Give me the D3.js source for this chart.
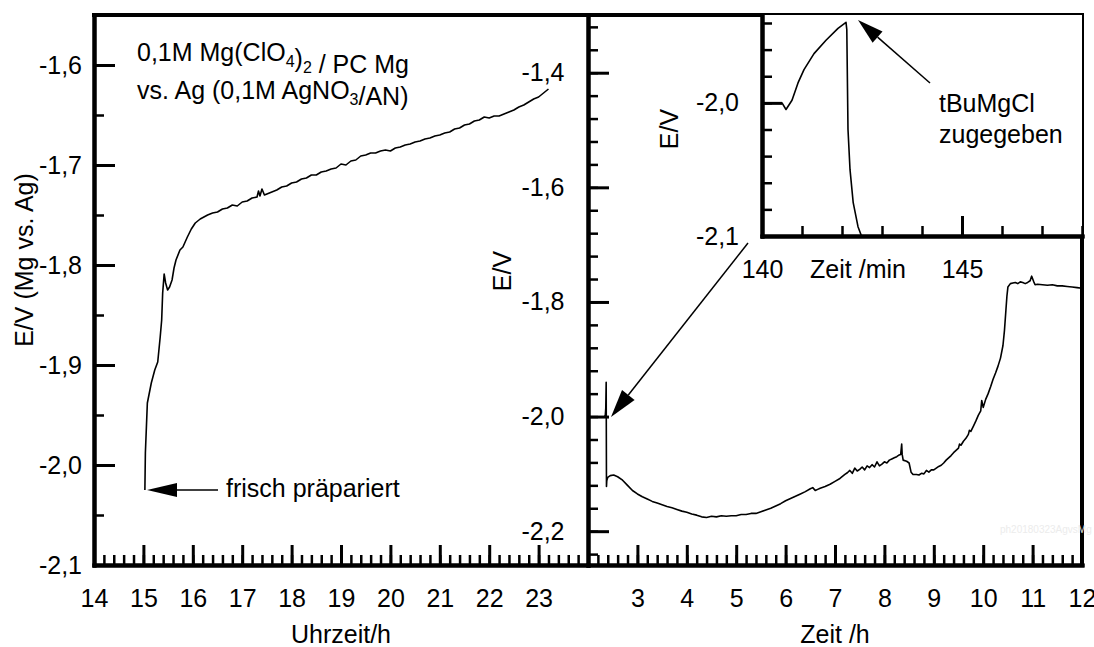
<!DOCTYPE html>
<html>
<head>
<meta charset="utf-8">
<script src="https://cdn.jsdelivr.net/npm/d3@7"></script>
<style>
  body { margin: 0; background: #fff; }
  text { font-family: "Liberation Sans", Arial, sans-serif; fill: #000; }
</style>
</head>
<body>
<div id="chart"></div>
<script>
// Left panel: potential vs. clock time (h)
const leftHours = [15.03, 15.04, 15.08, 15.16, 15.23, 15.29, 15.34, 15.37, 15.39, 15.42, 15.45, 15.49, 15.53, 15.58, 15.62,
    15.66, 15.74, 15.80, 15.89, 15.97, 16.05, 16.15, 16.3, 16.4, 16.5, 16.6, 16.7, 16.8, 16.9, 17.0, 17.1, 17.2, 17.3,
    17.33, 17.36, 17.4, 17.45, 17.5, 17.6, 17.7, 17.8, 17.9, 18.0, 18.1, 18.2, 18.3, 18.4, 18.5, 18.6, 18.7, 18.8, 18.9,
    19.0, 19.1, 19.2, 19.3, 19.4, 19.5, 19.6, 19.7, 19.8, 19.9, 20.0, 20.1, 20.2, 20.3, 20.4, 20.5, 20.6, 20.7, 20.8,
    20.9, 21.0, 21.1, 21.2, 21.3, 21.4, 21.5, 21.6, 21.7, 21.8, 21.9, 22.0, 22.1, 22.2, 22.3, 22.4, 22.5, 22.6, 22.7,
    22.8, 22.9, 23.0, 23.1, 23.2];
const leftVolts = [-2.025, -1.988, -1.938, -1.918, -1.905, -1.897, -1.872, -1.855, -1.828, -1.809, -1.818, -1.825, -1.822, -1.815, -1.803,
    -1.795, -1.785, -1.782, -1.772, -1.764, -1.758, -1.754, -1.750, -1.748, -1.747, -1.744, -1.743, -1.740, -1.741, -1.737, -1.736, -1.733, -1.732,
    -1.726, -1.731, -1.724, -1.730, -1.729, -1.727, -1.725, -1.722, -1.721, -1.718, -1.717, -1.714, -1.713, -1.710, -1.710, -1.707, -1.706, -1.704, -1.703,
    -1.699, -1.700, -1.696, -1.695, -1.691, -1.690, -1.688, -1.688, -1.686, -1.685, -1.686, -1.683, -1.682, -1.680, -1.679, -1.677, -1.676, -1.674, -1.673,
    -1.671, -1.670, -1.668, -1.667, -1.664, -1.663, -1.660, -1.659, -1.656, -1.655, -1.652, -1.653, -1.651, -1.651, -1.649, -1.647, -1.645, -1.642, -1.640,
    -1.637, -1.634, -1.632, -1.628, -1.624];

// Right panel: potential vs. time (h)
const rightHours = [2.333, 2.350, 2.360, 2.368, 2.370, 2.374, 2.380, 2.400, 2.45, 2.52, 2.60, 2.70, 2.80, 2.90, 3.00, 3.10, 3.20, 3.30,
    3.40, 3.50, 3.60, 3.70, 3.80, 3.90, 4.00, 4.10, 4.20, 4.30, 4.40, 4.50, 4.60, 4.70, 4.80, 4.90, 5.00, 5.10, 5.20, 5.30,
    5.40, 5.50, 5.60, 5.70, 5.80, 5.90, 6.00, 6.10, 6.20, 6.30, 6.40, 6.50, 6.55, 6.60, 6.65, 6.70, 6.80, 6.90, 7.00, 7.10,
    7.20, 7.25, 7.30, 7.35, 7.40, 7.45, 7.50, 7.55, 7.60, 7.65, 7.70, 7.75, 7.80, 7.85, 7.90, 7.95, 8.00, 8.05, 8.10, 8.15,
    8.20, 8.25, 8.30, 8.33, 8.35, 8.36, 8.38, 8.45, 8.50, 8.54, 8.58, 8.65, 8.70, 8.75, 8.80, 8.85, 8.90, 8.95, 9.00, 9.05,
    9.10, 9.15, 9.20, 9.25, 9.30, 9.35, 9.40, 9.45, 9.50, 9.52, 9.55, 9.60, 9.65, 9.70, 9.72, 9.75, 9.80, 9.85, 9.90, 9.95,
    9.97, 10.00, 10.05, 10.10, 10.15, 10.20, 10.25, 10.30, 10.35, 10.40, 10.43, 10.46, 10.48, 10.50, 10.55, 10.60, 10.65,
    10.70, 10.75, 10.80, 10.85, 10.90, 10.95, 10.98, 11.02, 11.05, 11.10, 11.20, 11.30, 11.40, 11.50, 11.60, 11.70, 11.80,
    11.90, 12.00];
const rightVolts = [-2.000, -1.998, -1.985, -1.940, -2.000, -2.122, -2.112, -2.106, -2.103, -2.102, -2.105, -2.111, -2.120, -2.129, -2.135, -2.140, -2.144, -2.148,
    -2.151, -2.154, -2.157, -2.159, -2.162, -2.165, -2.167, -2.170, -2.172, -2.175, -2.176, -2.174, -2.175, -2.173, -2.174, -2.173, -2.173, -2.171, -2.171, -2.169,
    -2.169, -2.166, -2.163, -2.160, -2.156, -2.152, -2.147, -2.143, -2.139, -2.135, -2.131, -2.126, -2.124, -2.129, -2.127, -2.125, -2.122, -2.118, -2.113, -2.108,
    -2.101, -2.098, -2.094, -2.099, -2.090, -2.095, -2.092, -2.088, -2.093, -2.086, -2.089, -2.084, -2.088, -2.079, -2.086, -2.083, -2.079, -2.081, -2.076, -2.074,
    -2.072, -2.070, -2.067, -2.066, -2.048, -2.066, -2.076, -2.078, -2.081, -2.097, -2.101, -2.101, -2.102, -2.099, -2.100, -2.094, -2.097, -2.093, -2.093, -2.090,
    -2.087, -2.085, -2.081, -2.076, -2.072, -2.068, -2.063, -2.059, -2.055, -2.048, -2.050, -2.043, -2.038, -2.031, -2.024, -2.026, -2.017, -2.008, -1.998, -1.990,
    -1.972, -1.984, -1.970, -1.960, -1.948, -1.935, -1.924, -1.912, -1.898, -1.876, -1.850, -1.814, -1.790, -1.774, -1.768, -1.767, -1.766,
    -1.768, -1.765, -1.766, -1.768, -1.766, -1.763, -1.755, -1.764, -1.770, -1.769, -1.770, -1.771, -1.770, -1.772, -1.772, -1.773, -1.774,
    -1.775, -1.776];

// Inset: detail around the addition (min)
const insetMinutes = [140.0, 140.5, 140.6, 140.75, 140.9, 141.05, 141.3, 141.6, 141.9, 142.1, 142.12, 142.15, 142.2, 142.28, 142.4, 142.55];
const insetVolts = [-2.000, -2.000, -2.005, -1.998, -1.985, -1.975, -1.963, -1.953, -1.944, -1.9395, -1.945, -2.02, -2.05, -2.075, -2.093, -2.105];

// Tick labels
const leftHourTicks = [14, 15, 16, 17, 18, 19, 20, 21, 22, 23];
const leftVoltTicks = [-2.1, -2.0, -1.9, -1.8, -1.7, -1.6];
const rightHourTicks = [3, 4, 5, 6, 7, 8, 9, 10, 11, 12];
const rightVoltTicks = [-2.2, -2.0, -1.8, -1.6, -1.4];
const insetMinuteTicks = [140, 145];
const insetVoltTicks = [-2.1, -2.0];

const width = 1094, height = 647;
const fontSize = 25;
const fmt = v => v.toFixed(1).replace(".", ",");

const svg = d3.select("#chart").append("svg")
    .attr("width", width)
    .attr("height", height);

// Scales
const xLeft = d3.scaleLinear().domain([14, 24]).range([94, 588]);
const yLeft = d3.scaleLinear().domain([-2.1, -1.55]).range([565, 15]);
const xRight = d3.scaleLinear().domain([2, 12]).range([588, 1082]);
const yRight = d3.scaleLinear().domain([-2.259, -1.2993]).range([565, 15]);
const xInset = d3.scaleLinear().domain([140, 148]).range([762, 1082]);
const yInset = d3.scaleLinear().domain([-2.1, -1.934]).range([236, 15]);

const steps = (a, b, s) => d3.range(0, Math.round((b - a) / s) + 1).map(i => +(a + i * s).toFixed(4));

function styleAxis(g, tickWidth) {
    g.select(".domain").attr("stroke", "#000").attr("stroke-width", 4).attr("stroke-linecap", "square");
    g.selectAll(".tick line").attr("stroke", "#000").attr("stroke-width", tickWidth);
    g.selectAll(".tick text").attr("font-size", fontSize).attr("fill", "#000")
        .attr("font-family", '"Liberation Sans", Arial, sans-serif');
}

// Draws a minor + major axis pair
function drawAxis(axisFn, scale, pos, minorVals, majorVals, majorLen, minorLen, pad, labels) {
    const minor = svg.append("g").attr("transform", pos)
        .call(axisFn(scale).tickValues(minorVals).tickSizeInner(-minorLen).tickSizeOuter(0).tickFormat(""));
    styleAxis(minor, 2.5);
    const major = svg.append("g").attr("transform", pos)
        .call(axisFn(scale).tickValues(majorVals).tickSizeInner(-majorLen).tickSizeOuter(0)
            .tickPadding(pad).tickFormat(labels ? labels : () => ""));
    styleAxis(major, 3);
    return major;
}

// Left panel axes
drawAxis(d3.axisBottom, xLeft, "translate(0,565)", steps(14, 24, 0.2), leftHourTicks, 20, 10, 24, d => d);
drawAxis(d3.axisLeft, yLeft, "translate(94,0)", steps(-2.1, -1.55, 0.05), leftVoltTicks, 21, 10, 12, fmt);

// Right panel axes
drawAxis(d3.axisBottom, xRight, "translate(0,565)", steps(2, 12, 0.2), rightHourTicks, 20, 10, 24, d => d);
drawAxis(d3.axisLeft, yRight, "translate(588,0)", steps(-2.24, -1.32, 0.04), rightVoltTicks, 21, 10, 23.5, fmt);

// Outer frame (top and right)
svg.append("path")
    .attr("d", `M94,15H1082V565`)
    .attr("fill", "none").attr("stroke", "#000").attr("stroke-width", 4).attr("stroke-linecap", "square");

// Curves
const lineLeft = d3.line().x(i => xLeft(leftHours[i])).y(i => yLeft(leftVolts[i]));
svg.append("path")
    .attr("d", lineLeft(d3.range(leftHours.length)))
    .attr("fill", "none").attr("stroke", "#000").attr("stroke-width", 1.6).attr("stroke-linejoin", "round");

const lineRight = d3.line().x(i => xRight(rightHours[i])).y(i => yRight(rightVolts[i]));
svg.append("path")
    .attr("d", lineRight(d3.range(rightHours.length)))
    .attr("fill", "none").attr("stroke", "#000").attr("stroke-width", 1.6).attr("stroke-linejoin", "round");

// Inset
svg.append("rect").attr("x", 762).attr("y", 15).attr("width", 320).attr("height", 221).attr("fill", "#fff");
svg.append("clipPath").attr("id", "insetClip")
    .append("rect").attr("x", 762).attr("y", 15).attr("width", 320).attr("height", 221);
const lineInset = d3.line().x(i => xInset(insetMinutes[i])).y(i => yInset(insetVolts[i]));
svg.append("path")
    .attr("clip-path", "url(#insetClip)")
    .attr("d", lineInset(d3.range(insetMinutes.length)))
    .attr("fill", "none").attr("stroke", "#000").attr("stroke-width", 1.6).attr("stroke-linejoin", "round");

drawAxis(d3.axisBottom, xInset, "translate(0,236)", steps(140, 148, 1), insetMinuteTicks, 20, 10, 24, d => d);
drawAxis(d3.axisLeft, yInset, "translate(762,0)", steps(-2.1, -1.94, 0.02), insetVoltTicks, 20, 10, 23, fmt);

// Axis titles
function addText(x, y, str, anchor, rotate) {
    return svg.append("text")
        .attr("transform", `translate(${x},${y})` + (rotate ? " rotate(-90)" : ""))
        .attr("text-anchor", anchor || "start")
        .attr("font-size", fontSize)
        .text(str);
}
addText(341, 643, "Uhrzeit/h", "middle");
addText(835, 643, "Zeit /h", "middle");
addText(858, 278, "Zeit /min", "middle");
addText(33, 260, "E/V (Mg vs. Ag)", "middle", true);
addText(511, 271, "E/V", "middle", true);
addText(678, 129, "E/V", "middle", true);

// Annotation with subscripts
function addSubText(x, y, parts) {
    const t = svg.append("text").attr("x", x).attr("y", y).attr("font-size", fontSize);
    parts.forEach(p => {
        if (typeof p === "string") t.append("tspan").text(p);
        else {
            t.append("tspan").attr("font-size", 16).attr("dy", 6).text(p.sub);
            t.append("tspan").attr("dy", -6).text("");
        }
    });
}
addSubText(137, 61, ["0,1M Mg(ClO", {sub: "4"}, ")", {sub: "2"}, " / PC Mg"]);
addSubText(137, 99, ["vs. Ag (0,1M AgNO", {sub: "3"}, "/AN)"]);

addText(226, 497, "frisch präpariert");
addText(939, 112, "tBuMgCl");
addText(939, 143, "zugegeben");

// Arrows
function arrow(x1, y1, x2, y2, headLen, headHalf) {
    const dx = x2 - x1, dy = y2 - y1, len = Math.hypot(dx, dy);
    const ux = dx / len, uy = dy / len;
    const bx = x2 - ux * headLen, by = y2 - uy * headLen;
    svg.append("line").attr("x1", x1).attr("y1", y1).attr("x2", bx).attr("y2", by)
        .attr("stroke", "#000").attr("stroke-width", 1.5);
    svg.append("path")
        .attr("d", `M${x2},${y2}L${bx - uy * headHalf},${by + ux * headHalf}L${bx + uy * headHalf},${by - ux * headHalf}Z`)
        .attr("fill", "#000");
}
arrow(218, 490, 147, 490, 30, 7);
arrow(930, 83, 858, 20, 26, 7.5);
arrow(748, 243, 611, 417, 28, 8);

// faint watermark
svg.append("text").attr("x", 1000).attr("y", 533).attr("font-size", 10)
    .style("fill", "#ececec").text("ph20180323AgvsMg");
</script>
</body>
</html>
